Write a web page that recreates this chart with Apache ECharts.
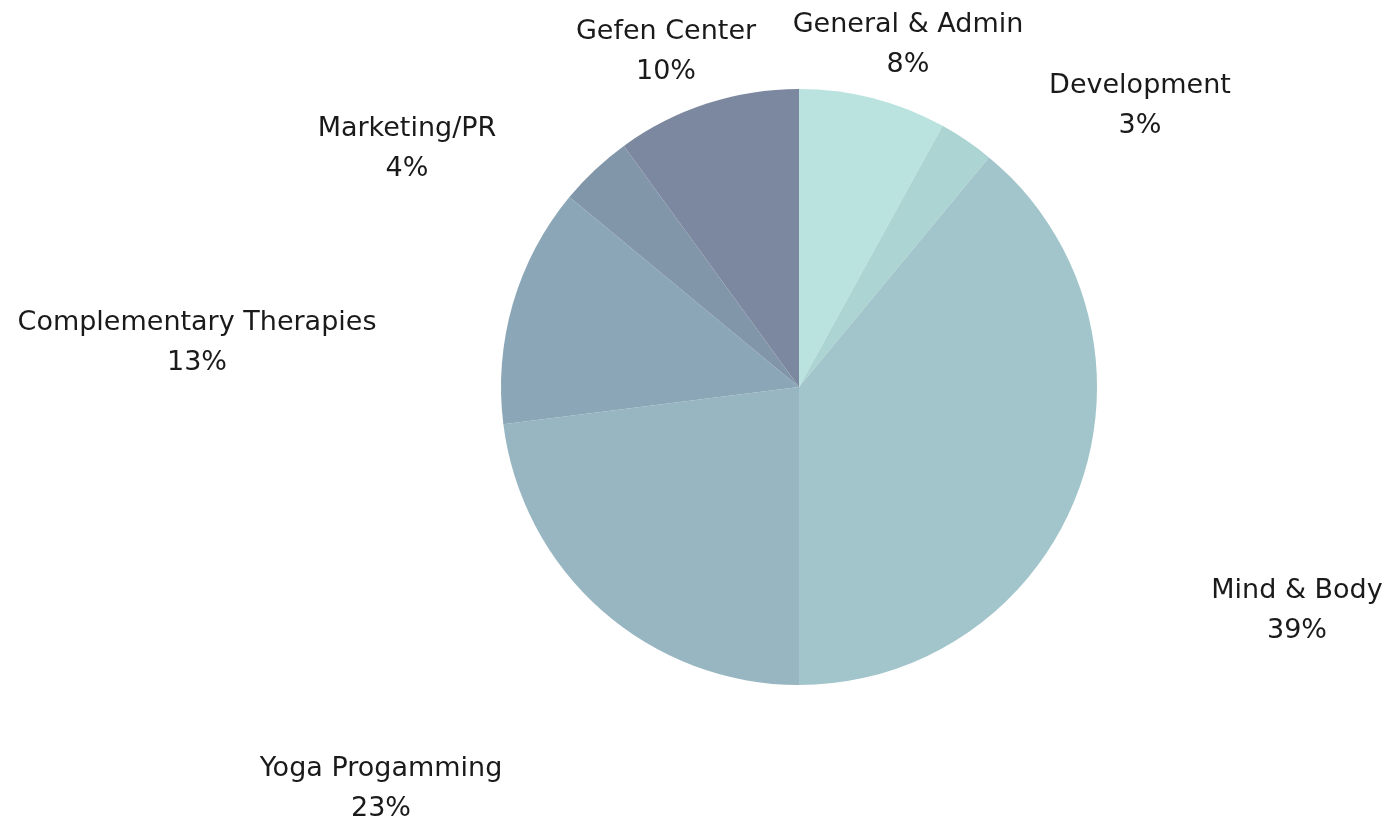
<!DOCTYPE html>
<html>
<head>
<meta charset="utf-8">
<script src="https://cdn.jsdelivr.net/npm/echarts@6/dist/echarts.min.js"></script>
<style>
html,body{margin:0;padding:0;background:#fff;}
#chart{width:1397px;height:822px;}
</style>
</head>
<body>
<div id="chart"></div>
<script>
var categories = ['General & Admin', 'Development', 'Mind & Body', 'Yoga Progamming', 'Complementary Therapies', 'Marketing/PR', 'Gefen Center'];
var values = [8, 3, 39, 23, 13, 4, 10];
var colors = ['#bae3df', '#acd4d3', '#a1c5cb', '#97b6c1', '#8ba7b7', '#8296aa', '#7c889f'];
// label anchor points (centre of each two-line label), in px
var labelAnchors = [[908, 45], [1140, 106], [1297, 611], [381, 789], [197, 343], [407, 149], [666, 52]];

var chart = echarts.init(document.getElementById('chart'), null, {renderer: 'canvas'});
var data = categories.map(function (c, i) {
  return {name: c, value: values[i], itemStyle: {color: colors[i]}};
});
chart.setOption({
  backgroundColor: '#ffffff',
  animation: false,
  series: [{
    type: 'pie',
    center: [799, 387],
    radius: [0, 298],
    startAngle: 90,
    clockwise: true,
    avoidLabelOverlap: false,
    data: data,
    itemStyle: {borderWidth: 0},
    emphasis: {disabled: true},
    label: {
      show: true,
      position: 'outside',
      formatter: function (p) { return p.name + '\n' + p.value + '%'; },
      fontFamily: '"DejaVu Sans", sans-serif',
      fontSize: 27,
      lineHeight: 40,
      color: '#1a1a1a',
      align: 'center'
    },
    labelLine: {show: false},
    labelLayout: function (params) {
      var a = labelAnchors[params.dataIndex];
      return {x: a[0], y: a[1], align: 'center', verticalAlign: 'middle'};
    }
  }]
});
</script>
</body>
</html>
